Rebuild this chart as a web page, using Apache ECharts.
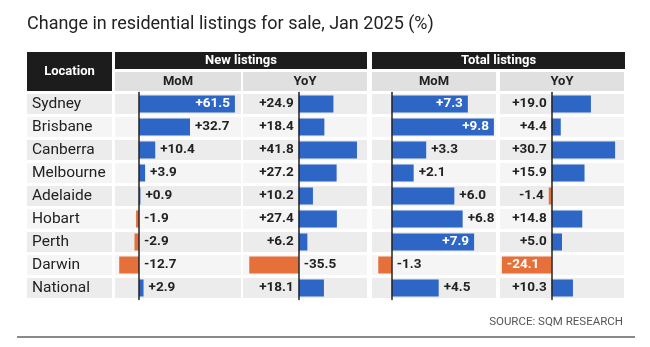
<!DOCTYPE html>
<html lang="en">
<head>
<meta charset="UTF-8">
<title>Residential listings</title>
<script src="https://cdn.jsdelivr.net/npm/echarts@6/dist/echarts.min.js"></script>
<style>
  html, body { margin: 0; padding: 0; background: #fff; }
  #chart { width: 650px; height: 347px; }
</style>
</head>
<body>
<div id="chart"></div>
<script>
// data
var locations = ['Sydney', 'Brisbane', 'Canberra', 'Melbourne', 'Adelaide', 'Hobart', 'Perth', 'Darwin', 'National'];
var newMoM = [61.5, 32.7, 10.4, 3.9, 0.9, -1.9, -2.9, -12.7, 2.9];
var newYoY = [24.9, 18.4, 41.8, 27.2, 10.2, 27.4, 6.2, -35.5, 18.1];
var totalMoM = [7.3, 9.8, 3.3, 2.1, 6.0, 6.8, 7.9, -1.3, 4.5];
var totalYoY = [19.0, 4.4, 30.7, 15.9, -1.4, 14.8, 5.0, -24.1, 10.3];
var groupNames = ['New listings', 'Total listings'];
var periodNames = ['MoM', 'YoY'];
var locationHeader = 'Location';

var FONT = 'Roboto, sans-serif';
var BLUE = '#2e66c6';
var ORANGE = '#e6703a';
var GRID_TOP = 92.5;
var ROW = 23;

// one entry per bar column: x position and value range of its cell
var columns = [
  { data: newMoM,   left: 115, width: 126, min: -15.4, max: 65.4, kind: 'mom' },
  { data: newYoY,   left: 243, width: 124, min: -40,   max: 49,   kind: 'yoy', negInside: false },
  { data: totalMoM, left: 372, width: 124, min: -1.9,  max: 10,   kind: 'mom' },
  { data: totalYoY, left: 500, width: 124, min: -25,   max: 35,   kind: 'yoy', negInside: true }
];

function fmt(v) {
  return (v > 0 ? '+' : '') + v.toFixed(1);
}

function labelFor(col, v) {
  var ppu = col.width / (col.max - col.min);
  if (col.kind === 'mom') {
    if (v > 0 && (col.max - v) * ppu < 30) return { position: 'insideRight', color: '#fff' };
    return { position: 'right' };
  }
  if (v >= 0) return { position: 'left' };
  if (-v * ppu < 10) return { position: 'left' };
  if (col.negInside) return { position: 'insideLeft', color: '#fff' };
  return { position: 'right' };
}

function cellBg(params, api) {
  var cs = params.coordSys;
  var i = api.value(1);
  var y = api.coord([0, i])[1];
  return {
    type: 'rect',
    shape: { x: cs.x, y: y - 10, width: cs.width, height: 20 },
    style: { fill: i % 2 === 0 ? '#ececec' : '#f5f5f5' },
    silent: true
  };
}

var grids = [], xAxes = [], yAxes = [], series = [];
var rowIdx = locations.map(function (n, i) { return [0, i]; });

// location column
grids.push({ left: 27, width: 85, top: GRID_TOP, height: ROW * locations.length, outerBoundsMode: 'none' });
xAxes.push({ gridIndex: 0, type: 'value', min: 0, max: 1, show: false });
yAxes.push({
  gridIndex: 0, type: 'category', data: locations, inverse: true, z: 10,
  axisLine: { show: false }, axisTick: { show: false }, splitLine: { show: false },
  axisLabel: { inside: true, margin: 5, fontSize: 15.5, color: '#222', fontFamily: FONT }
});
series.push({ type: 'custom', xAxisIndex: 0, yAxisIndex: 0, renderItem: cellBg, data: rowIdx, z: 1, silent: true });

columns.forEach(function (col, k) {
  var g = k + 1;
  grids.push({ left: col.left, width: col.width, top: GRID_TOP, height: ROW * locations.length, outerBoundsMode: 'none' });
  xAxes.push({ gridIndex: g, type: 'value', min: col.min, max: col.max, show: false });
  yAxes.push({
    gridIndex: g, type: 'category', data: locations, inverse: true, z: 10,
    axisLine: { show: true, onZero: true, lineStyle: { color: '#222', width: 1.5 } },
    axisTick: { show: false }, axisLabel: { show: false }, splitLine: { show: false }
  });
  series.push({ type: 'custom', xAxisIndex: g, yAxisIndex: g, renderItem: cellBg, data: rowIdx, z: 1, silent: true });
  series.push({
    type: 'bar', xAxisIndex: g, yAxisIndex: g, barWidth: 17, z: 3,
    data: col.data.map(function (v) {
      return { value: v, itemStyle: { color: v < 0 ? ORANGE : BLUE }, label: labelFor(col, v) };
    }),
    label: {
      show: true, distance: 5, fontSize: 13.5, fontWeight: 'bold', color: '#222', fontFamily: FONT,
      formatter: function (p) { return fmt(p.value); }
    }
  });
});

// header blocks
var headText = { fill: '#fff', font: 'bold 13px ' + FONT, align: 'center', verticalAlign: 'middle' };
var subText = { fill: '#222', font: 'bold 13px ' + FONT, align: 'center', verticalAlign: 'middle' };
var graphics = [
  { type: 'rect', shape: { x: 27, y: 52, width: 85, height: 39 }, style: { fill: '#1c1c1c' } },
  { type: 'text', x: 69.5, y: 71.5, style: Object.assign({ text: locationHeader }, headText) }
];
[[115, 367], [372, 625]].forEach(function (r, gi) {
  graphics.push({ type: 'rect', shape: { x: r[0], y: 52, width: r[1] - r[0], height: 17 }, style: { fill: '#1c1c1c' } });
  graphics.push({ type: 'text', x: (r[0] + r[1]) / 2, y: 60.5, style: Object.assign({ text: groupNames[gi] }, headText) });
});
columns.forEach(function (col, k) {
  graphics.push({ type: 'rect', shape: { x: col.left, y: 72, width: col.width, height: 19 }, style: { fill: '#e0e0e0' } });
  graphics.push({ type: 'text', x: col.left + col.width / 2, y: 81.5, style: Object.assign({ text: periodNames[k % 2] }, subText) });
});
graphics.push({
  type: 'text', right: 27, top: 316,
  style: { text: 'SOURCE: SQM RESEARCH', fill: '#555', font: '11.5px ' + FONT }
});
graphics.push({ type: 'line', shape: { x1: 17, y1: 337, x2: 635, y2: 337 }, style: { stroke: '#8a8a8a', lineWidth: 2 } });

var chart = echarts.init(document.getElementById('chart'));
chart.setOption({
  backgroundColor: '#fff',
  animation: false,
  title: {
    text: 'Change in residential listings for sale, Jan 2025 (%)',
    left: 22, top: 10,
    textStyle: { fontSize: 18, fontWeight: 'normal', color: '#222', fontFamily: FONT }
  },
  grid: grids,
  xAxis: xAxes,
  yAxis: yAxes,
  series: series,
  graphic: graphics
});
</script>
</body>
</html>
